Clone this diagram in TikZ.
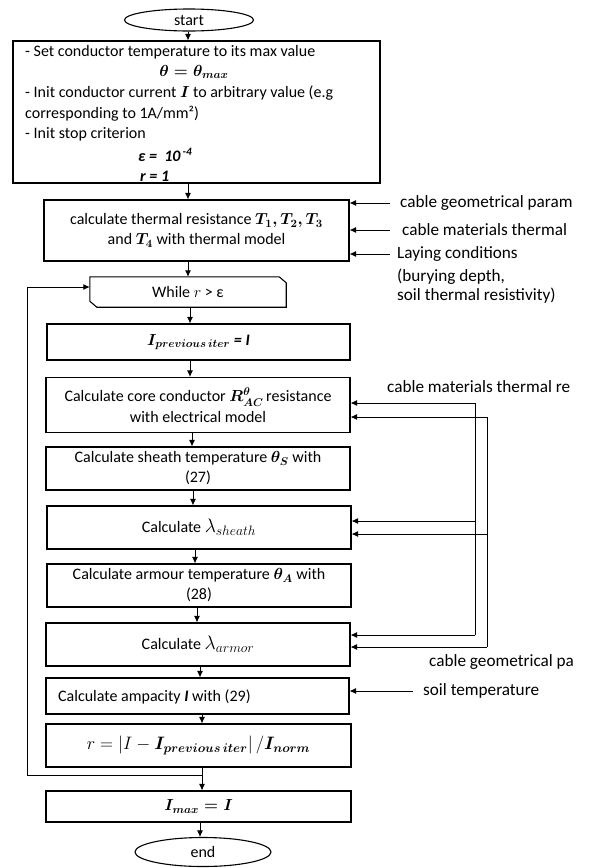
\documentclass[tikz,border=0pt]{standalone}
\usepackage{fix-cm}
\usepackage{amsmath}
\usepackage{fontspec}
\setmainfont{Carlito}
\usetikzlibrary{arrows.meta,shapes.geometric}
\newcommand{\bigmath}[1]{{\fontsize{19.5}{20}\selectfont$#1$}}
\begin{document}
\begin{tikzpicture}[x=1pt,y=-1pt,
  txt/.style={font=\fontsize{16}{20}\selectfont},
  sidetxt/.style={font=\fontsize{17.2}{21}\selectfont},
  box/.style={draw, line width=1.1pt, inner sep=0pt, align=center, txt},
  oval/.style={draw, ellipse, line width=1.1pt, inner sep=0pt, txt},
  arr/.style={-{Latex[length=6.5pt,width=6pt]}, line width=0.9pt},
  lbl/.style={anchor=west, inner sep=0pt, txt},
  side/.style={anchor=west, inner sep=0pt, sidetxt},
  wire/.style={line width=0.9pt}]
\useasboundingbox (0,0) rectangle (589,868);
\clip (0,0) rectangle (589,868);
\fill[white] (0,0) rectangle (589,868);

% main column
\node[oval, minimum width=129pt, minimum height=22pt] (start) at (189,20) {start};
\node[box, minimum width=367pt, minimum height=142pt] (init) at (196.5,112) {};
\node[lbl] (i1) at (25,52) {- Set conductor temperature to its max value};
\node[txt, inner sep=0pt] (i2) at (194,72) {$\boldsymbol{\theta = \theta_{max}}$};
\node[lbl] (i3) at (25,93) {- Init conductor current $\boldsymbol{I}$ to arbitrary value (e.g};
\node[lbl] (i4) at (25,114) {corresponding to 1A/mm²)};
\node[lbl] (i5) at (25,134) {- Init stop criterion};
\node[lbl] (i6) at (138,155) {\textbf{\textit{ε =\ \ 10}}\textsuperscript{\textbf{\textit{\,-4}}}};
\node[lbl] (i7) at (140,176) {\textbf{\textit{r = 1}}};

\node[box, minimum width=305pt, minimum height=61pt] (therm) at (196.5,230.5)
  {calculate thermal resistance $\boldsymbol{T_1, T_2, T_3}$\\ and $\boldsymbol{T_4}$ with thermal model};

\node[txt, inner sep=0pt, minimum width=196pt, minimum height=30pt] (while) at (188,292) {While $r$ > ε};
\draw[line width=1.1pt] (while.north west) -- ([xshift=-7pt]while.north east)
  -- ([yshift=-6pt]while.north east) -- (while.south east)
  -- ([xshift=7pt]while.south west) -- ([yshift=6pt]while.south west) -- cycle;

\node[box, minimum width=303pt, minimum height=36pt] (prev) at (198.5,342)
  {$\boldsymbol{I_{previous\,iter}}$ \textbf{\textit{= I}}};
\node[box, minimum width=304pt, minimum height=55pt] (rac) at (198,405)
  {Calculate core conductor $\boldsymbol{R^{\theta}_{AC}}$\,resistance\\[1pt] with electrical model};
\node[box, minimum width=304pt, minimum height=43pt] (sheath) at (198,468.5)
  {Calculate sheath temperature $\boldsymbol{\theta_S}$ with\\ (27)};
\node[box, minimum width=304pt, minimum height=43pt] (lsheath) at (199,527.5)
  {Calculate \bigmath{\lambda_{sheath}}};
\node[box, minimum width=304pt, minimum height=43pt] (armour) at (199,585.5)
  {Calculate armour temperature $\boldsymbol{\theta_A}$ with\\ (28)};
\node[box, minimum width=304pt, minimum height=43pt] (larmor) at (198,644.5)
  {Calculate \bigmath{\lambda_{armor}}};
\node[box, minimum width=303pt, minimum height=36pt] (amp) at (197.5,696) {};
\node[lbl] (ampt) at (58,697) {Calculate ampacity \textbf{\textit{I}} with (29)};
\node[box, minimum width=305pt, minimum height=43pt, font=\fontsize{18}{22}\selectfont] (rbox) at (198.5,745.5)
  {$r = \left|I - \boldsymbol{I_{previous\,iter}}\right|/\boldsymbol{I_{norm}}$};
\node[box, minimum width=305pt, minimum height=31pt] (imax) at (198.5,806.5)
  {$\boldsymbol{I_{max} = I}$};
\node[oval, minimum width=136pt, minimum height=29pt] (end) at (203,852) {end};

% main arrows
\draw[arr] (start.south -| 188,0) -- (init.north -| 188,0);
\draw[arr] (init.south -| 188,0) -- (therm.north -| 188,0);
\draw[arr] (therm.south -| 188,0) -- (while.north -| 188,0);
\draw[arr] (while.south -| 190,0) -- (prev.north -| 190,0);
\draw[arr] (prev.south -| 190,0) -- (rac.north -| 190,0);
\draw[arr] (rac.south -| 192,0) -- (sheath.north -| 192,0);
\draw[arr] (sheath.south -| 193,0) -- (lsheath.north -| 193,0);
\draw[arr] (lsheath.south -| 195,0) -- (armour.north -| 195,0);
\draw[arr] (armour.south -| 197,0) -- (larmor.north -| 197,0);
\draw[arr] (larmor.south -| 200,0) -- (amp.north -| 200,0);
\draw[arr] (amp.south -| 202,0) -- (rbox.north -| 202,0);
\draw[arr] (rbox.south -| 202,0) -- (imax.north -| 202,0);
\draw[arr] (imax.south -| 200,0) -- (end.north -| 200,0);

% loop back
\coordinate (lp1) at (202,775);
\coordinate (lp2) at (27,775);
\coordinate (lp3) at (27,287);
\draw[arr] (lp1) -- (lp2) -- (lp3) -- (while.west |- lp3);

% side inputs to thermal model
\node[side] (g1) at (400,203) {cable geometrical param};
\node[side] (m1) at (402,230) {cable materials thermal};
\node[side] (lay) at (397,254) {Laying conditions};
\node[side] (lay2) at (397,277) {(burying depth,};
\node[side] (lay3) at (397,296) {soil thermal resistivity)};
\coordinate (ga) at (390,203);
\coordinate (ma) at (390,230);
\coordinate (la) at (390,254);
\draw[arr] (ga) -- (therm.east |- ga);
\draw[arr] (ma) -- (therm.east |- ma);
\draw[arr] (la) -- (therm.east |- la);

% side inputs in loop
\node[side] (m2) at (387,387) {cable materials thermal re};
\node[side] (g2) at (429,662) {cable geometrical pa};
\coordinate (va1) at (475,635);
\coordinate (vb1) at (487,647);
\draw[wire] (va1) -- (475,403);
\draw[wire] (vb1) -- (487,417);
\draw[arr] (475,403) -- (rac.east |- 0,403);
\draw[arr] (487,417) -- (rac.east |- 0,417);
\draw[arr] (475,521) -- (lsheath.east |- 0,521);
\draw[arr] (487,534) -- (lsheath.east |- 0,534);
\draw[arr] (va1) -- (larmor.east |- va1);
\draw[arr] (vb1) -- (larmor.east |- vb1);

\node[side] (soil) at (423,691) {soil temperature};
\coordinate (sa) at (413,691);
\draw[arr] (sa) -- (amp.east |- sa);
\end{tikzpicture}
\end{document}
